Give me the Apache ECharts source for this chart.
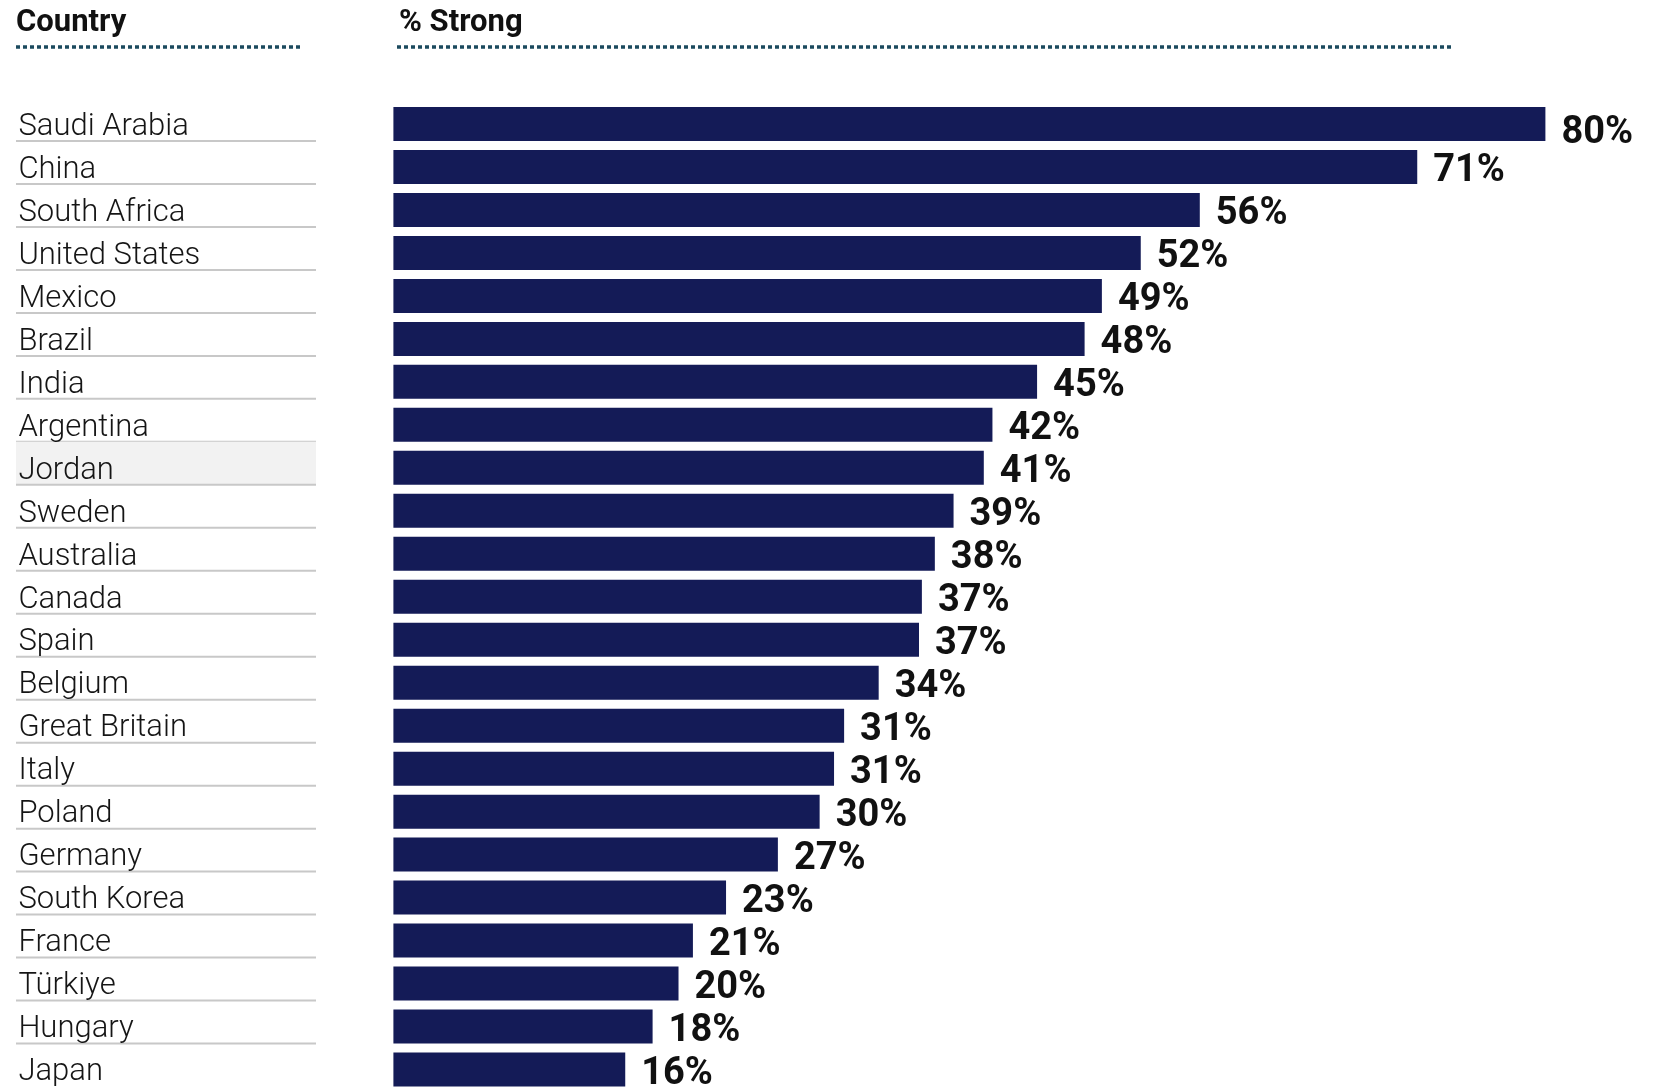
<!DOCTYPE html>
<html>
<head>
<meta charset="utf-8">
<style>
html,body{margin:0;padding:0;background:#fff;}
#chart{width:1654px;height:1091px;}
</style>
<script src="https://cdn.jsdelivr.net/npm/echarts@6/dist/echarts.min.js"></script>
</head>
<body>
<div id="chart"></div>
<script>
const countries = ['Saudi Arabia','China','South Africa','United States','Mexico','Brazil','India','Argentina','Jordan','Sweden','Australia','Canada','Spain','Belgium','Great Britain','Italy','Poland','Germany','South Korea','France','Türkiye','Hungary','Japan'];
const strongPct = [80, 71.1, 56, 51.9, 49.2, 48, 44.7, 41.6, 41, 38.9, 37.6, 36.7, 36.5, 33.7, 31.3, 30.6, 29.6, 26.7, 23.1, 20.8, 19.8, 18, 16.1];
const headerLeft = 'Country';
const headerRight = '% Strong';
const highlighted = 'Jordan';

const BAR_W = 34;
const chart = echarts.init(document.getElementById('chart'), null, {renderer:'canvas'});
const option = {
  backgroundColor: '#ffffff',
  animation: false,
  grid: {left: 393.4, top: 102.5, width: 1224, height: 993.5, containLabel: false},
  xAxis: {type: 'value', min: 0, max: 85, show: false},
  yAxis: {
    type: 'category', data: countries, inverse: true, z: 5,
    axisLine: {show: false}, axisTick: {show: false}, splitLine: {show: false},
    axisLabel: {align: 'left', verticalAlign: 'top', lineHeight: 6, margin: 375, fontSize: 31, fontFamily: 'Roboto', fontWeight: 300, color: '#151515'}
  },
  graphic: [
    {type: 'text', left: 16, top: 8, style: {text: headerLeft, font: 'bold 31px Roboto', fill: '#111'}},
    {type: 'text', left: 399, top: 8, style: {text: headerRight, font: 'bold 31px Roboto', fill: '#111'}},
    {type: 'line', shape: {x1: 16, y1: 47, x2: 300, y2: 47}, style: {stroke: '#1b4a5e', lineWidth: 3.5, lineDash: [4, 3]}},
    {type: 'line', shape: {x1: 397, y1: 47, x2: 1452, y2: 47}, style: {stroke: '#1b4a5e', lineWidth: 3.5, lineDash: [4, 3]}}
  ],
  series: [
    {
      type: 'custom', z: 1, silent: true,
      data: countries.map((c, i) => [0, i]),
      encode: {x: 0, y: 1},
      renderItem: function (params, api) {
        const i = api.value(1);
        const c = api.coord([0, i]);
        const band = api.size([0, 1])[1];
        const yb = c[1] + BAR_W / 2;
        const children = [];
        if (countries[i] === highlighted) {
          children.push({type: 'rect', shape: {x: 16, y: yb - band, width: 300, height: band}, style: {fill: '#f2f2f2'}});
        }
        if (i < countries.length - 1) {
          children.push({type: 'line', shape: {x1: 16, y1: yb, x2: 316, y2: yb}, style: {stroke: '#c8c8c8', lineWidth: 2}});
        }
        return {type: 'group', children: children};
      }
    },
    {
      type: 'bar', z: 2, barWidth: BAR_W,
      data: strongPct.map((v, i) => i === 0 ? {value: v, label: {offset: [0, 10]}} : v),
      itemStyle: {color: '#141b57'},
      label: {
        show: true, position: 'right', distance: 16, offset: [0, 5],
        formatter: p => Math.round(p.value) + '%',
        fontSize: 38, fontWeight: 'bold', fontFamily: 'Roboto', color: '#111'
      }
    }
  ]
};
chart.setOption(option);
</script>
</body>
</html>
